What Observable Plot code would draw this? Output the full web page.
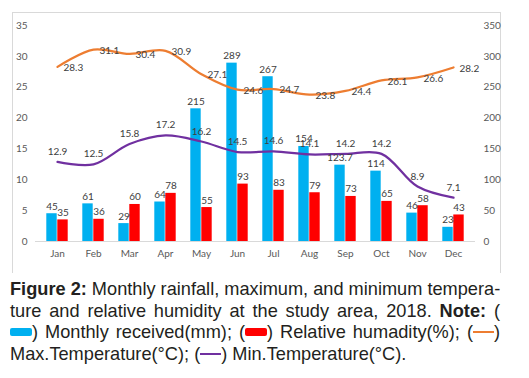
<!DOCTYPE html>
<html>
<head>
<meta charset="utf-8">
<script src="https://cdn.jsdelivr.net/npm/d3@7"></script>
<script src="https://cdn.jsdelivr.net/npm/@observablehq/plot@0.6"></script>
<style>
  html, body { margin: 0; padding: 0; background: #fff; }
  #wrap { position: relative; width: 529px; height: 378px; overflow: hidden; }
  #frame { position: absolute; left: 12px; top: 12px; width: 487px; height: 260px;
           border: 1px solid #d9d9d9; border-bottom: none; }
  #chart { position: absolute; left: 0; top: 0; }
  #caption { position: absolute; left: 10px; top: 279px; width: 490px;
             font-family: "Liberation Sans", Arial, sans-serif; font-size: 18.2px;
             line-height: 21.5px; color: #231f20; }
  #caption .ln { text-align: justify; text-align-last: justify; white-space: nowrap; }
  #caption .ln.last { text-align-last: left; }
  .sw { display: inline-block; width: 22px; height: 8px; border-radius: 2px; vertical-align: 2px; }
  .lnsw { display: inline-block; width: 21px; height: 2px; vertical-align: 5px; }
</style>
</head>
<body>
<div id="wrap">
  <div id="frame"></div>
  <div id="chart"></div>
  <div id="caption"></div>
</div>
<script>
const months = ["Jan","Feb","Mar","Apr","May","Jun","Jul","Aug","Sep","Oct","Nov","Dec"];
const rainfall = [45, 61, 29, 64, 215, 289, 267, 154, 123.7, 114, 46, 23];
const humidity = [35, 36, 60, 78, 55, 93, 83, 79, 73, 65, 58, 43];
const maxTemp = [28.3, 31.1, 30.4, 30.9, 27.1, 24.6, 24.7, 23.8, 24.4, 26.1, 26.6, 28.2];
const minTemp = [12.9, 12.5, 15.8, 17.2, 16.2, 14.5, 14.6, 14.1, 14.2, 14.2, 8.9, 7.1];
const leftTicks = [0, 5, 10, 15, 20, 25, 30, 35];
const rightTicks = [0, 50, 100, 150, 200, 250, 300, 350];

const rows = months.map((m, i) => ({
  month: m, rain: rainfall[i], hum: humidity[i], tmax: maxTemp[i], tmin: minTemp[i]
}));

const BLUE = "#00B0F0", RED = "#FF0000", ORANGE = "#ED7D31", PURPLE = "#7030A0";
const labelColor = "#404040";

const chart = Plot.plot({
  width: 529,
  height: 278,
  marginLeft: 35,
  marginRight: 54,
  marginTop: 25,
  marginBottom: 37,
  x: { domain: months, padding: 0, label: null },
  y: { domain: [0, 35], label: null },
  style: { fontFamily: "Lato, 'Open Sans', sans-serif", fontSize: "10px", color: "#595959", background: "transparent" },
  marks: [
    Plot.axisX({ tickSize: 0, tickPadding: 8, label: null }),
    Plot.axisY({ ticks: leftTicks, tickSize: 0, tickPadding: 8, label: null }),
    Plot.axisY({ anchor: "right", ticks: rightTicks.map(v => v / 10), tickFormat: d => Math.round(d * 10), tickSize: 0, tickPadding: 8, label: null }),
    Plot.ruleY([0], { stroke: "#d9d9d9" }),
    Plot.barY(rows, { x: "month", y: d => d.rain / 10, fill: BLUE, insetLeft: 7.3, insetRight: 18.3 }),
    Plot.barY(rows, { x: "month", y: d => d.hum / 10, fill: RED, insetLeft: 18.3, insetRight: 7.3 }),
    Plot.line(rows, { x: "month", y: "tmax", stroke: ORANGE, strokeWidth: 2.25, curve: "catmull-rom" }),
    Plot.line(rows, { x: "month", y: "tmin", stroke: PURPLE, strokeWidth: 2.25, curve: "catmull-rom" }),
    Plot.text(rows, { x: "month", y: d => d.rain / 10, text: d => String(d.rain), dx: -5.5, dy: -4, lineAnchor: "bottom", fill: labelColor }),
    Plot.text(rows, { x: "month", y: d => d.hum / 10, text: d => String(d.hum), dx: 5.5, dy: -4, lineAnchor: "bottom", fill: labelColor }),
    Plot.text(rows, { x: "month", y: "tmax", text: d => d.tmax.toFixed(1), dx: 6, dy: 1, textAnchor: "start", fill: labelColor }),
    Plot.text(rows, { x: "month", y: "tmin", text: d => d.tmin.toFixed(1), dy: -7, lineAnchor: "bottom", fill: labelColor })
  ]
});
document.getElementById("chart").appendChild(chart);

document.getElementById("caption").innerHTML =
  '<div class="ln"><b>Figure 2:</b> Monthly rainfall, maximum, and minimum tempera-</div>' +
  '<div class="ln">ture and relative humidity at the study area, 2018. <b>Note:</b> (</div>' +
  '<div class="ln"><span class="sw" style="background:' + BLUE + '"></span>) Monthly received(mm); (<span class="sw" style="background:' + RED + '"></span>) Relative humadity(%); (<span class="lnsw" style="background:' + ORANGE + '"></span>)</div>' +
  '<div class="ln last">Max.Temperature(°C); (<span class="lnsw" style="background:' + PURPLE + '"></span>) Min.Temperature(°C).</div>';
</script>
</body>
</html>
